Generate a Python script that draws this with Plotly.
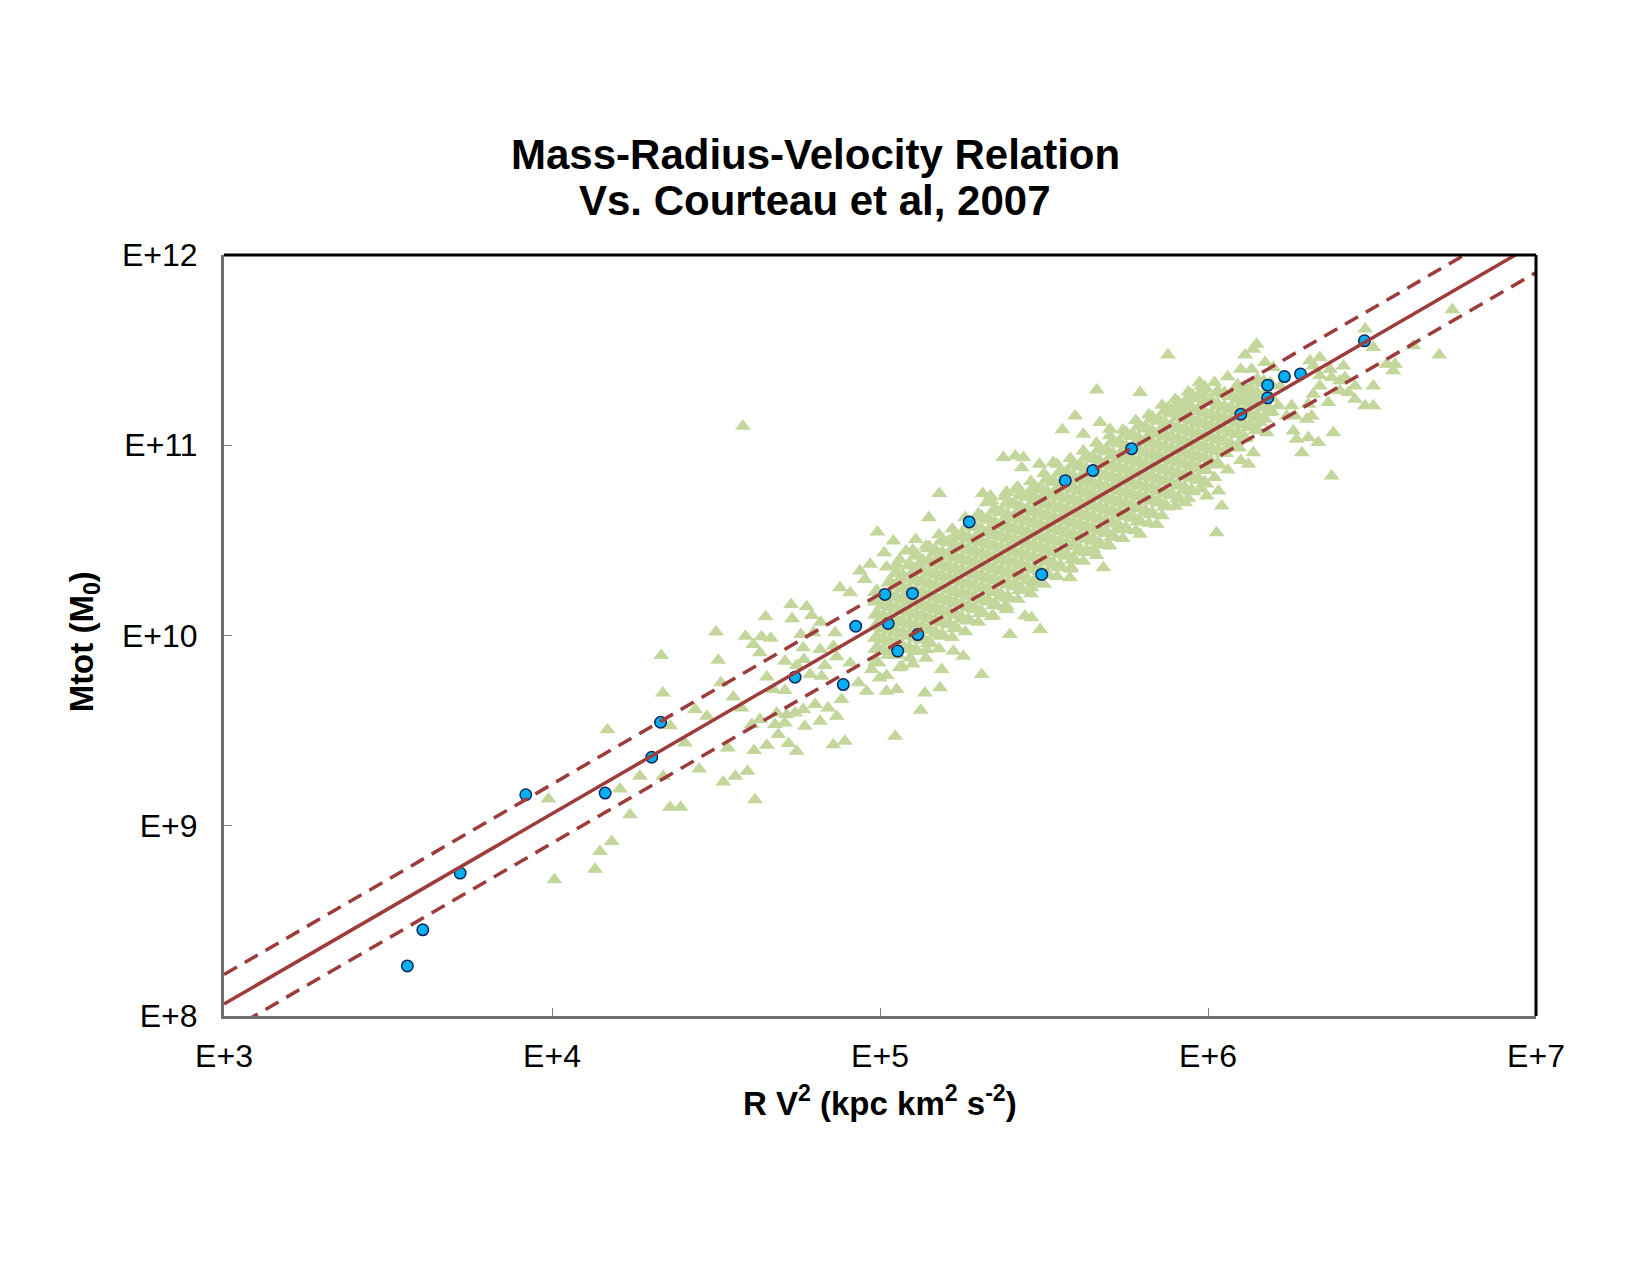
import plotly.graph_objects as go

# ---------------- data (log10 values) ----------------
# Blue circles: sample galaxies
blue_log_rv2 = [3.559, 3.606, 3.720, 3.920, 4.162, 4.304, 4.331, 4.741, 4.888, 4.926,
                5.015, 5.025, 5.054, 5.099, 5.115, 5.272, 5.493, 5.565, 5.649, 5.767,
                6.100, 6.182, 6.182, 6.233, 6.282, 6.477]
blue_log_mtot = [8.263, 8.453, 8.751, 9.163, 9.172, 9.360, 9.544, 9.781, 9.742, 10.049,
                 10.216, 10.063, 9.918, 10.221, 10.005, 10.597, 10.321, 10.814, 10.867, 10.982,
                 11.163, 11.249, 11.316, 11.361, 11.375, 11.549]

# Green triangles (Courteau et al. 2007) - scattered points
green_log_rv2 = [
    4.582, 5.878, 6.745, 6.705,
    # low / left tail
    4.729, 4.776, 4.792, 4.651, 4.732, 4.819, 4.500, 4.590, 4.639, 4.667, 4.614, 4.759, 4.797,
    4.863, 4.766, 4.817, 4.858, 4.634, 4.333, 4.507, 4.710, 4.746, 4.768, 4.832, 4.868, 4.655,
    4.787, 4.822, 4.515, 4.675, 4.710, 4.338, 4.553, 4.578, 4.436, 4.472, 4.634, 4.685, 4.715,
    4.741, 4.766, 4.802, 4.842, 4.868, 4.817, 4.609, 4.680, 4.710, 4.771, 4.360, 4.169, 4.690,
    4.721, 4.655, 4.746, 4.858, 4.536, 4.616, 4.405, 4.449, 4.268, 4.339, 4.522, 4.559, 4.596,
    4.207, 3.989, 4.619, 4.360, 4.392, 4.238, 4.182, 4.146, 4.131, 4.007,
    # middle
    5.181, 5.313, 5.337, 5.149, 4.992, 5.041, 5.109, 5.079, 5.013, 4.970, 4.939, 5.051, 4.954,
    4.909, 4.878, 4.909, 4.934, 4.975, 4.999, 4.959, 5.020, 5.051, 4.883, 5.137, 5.183, 5.124,
    5.046, 4.893, 5.188, 5.310, 5.254, 5.224, 5.142, 5.091, 5.066, 5.651, 5.528, 5.417, 5.386,
    5.346, 5.386, 5.415, 5.468, 5.325,
    # upper middle
    5.661, 5.793, 5.974, 5.595, 5.556, 5.671, 5.701, 5.620, 5.376, 5.412, 5.437, 5.432, 5.486,
    5.528, 5.386, 5.412, 6.032, 6.042, 5.996, 5.930, 6.026, 5.844, 5.793, 5.732, 5.696, 5.681,
    5.584, 5.579, 5.442, 5.462, 5.488, 5.396, 5.427, 5.462, 5.386, 5.986, 5.935, 5.915, 5.879,
    # upper right
    6.479, 6.504, 6.626, 6.148, 6.138, 6.113, 6.174, 6.133, 6.199, 6.311, 6.341, 6.321, 6.372,
    6.413, 6.418, 6.545, 6.570, 6.565, 6.341, 6.377, 6.402, 6.341, 6.448, 6.504, 6.402, 6.428,
    6.448, 6.321, 6.367, 6.479, 6.504, 6.255, 6.306, 6.316, 6.265, 6.301, 6.240, 6.189, 6.214,
    6.158, 6.123, 6.179, 6.260, 6.306, 6.336, 6.382, 6.286, 6.270, 6.138, 6.123, 6.377, 6.108,
    6.128, 6.220,
    # fringe of the dense band
    5.02, 5.02, 5.06, 5.06, 5.10, 5.10, 5.14, 5.14, 5.18, 5.18, 5.22, 5.22, 5.26, 5.26,
    5.30, 5.30, 5.34, 5.34, 5.38, 5.38, 5.42, 5.42, 5.46, 5.46, 5.50, 5.50, 5.54, 5.54,
    5.58, 5.58, 5.62, 5.62, 5.66, 5.66, 5.70, 5.70, 5.74, 5.74, 5.78, 5.78, 5.82, 5.82,
    5.86, 5.86, 5.90, 5.90, 5.94, 5.94, 5.98, 5.98, 6.02, 6.02, 6.06, 6.06, 6.10, 6.10,
]
green_log_mtot = [
    11.100, 11.474, 11.712, 11.474,
    10.163, 10.151, 10.105, 10.098, 10.088, 10.070, 10.018, 9.996, 9.993, 9.986, 9.953, 10.005, 10.014,
    10.014, 9.935, 9.926, 9.944, 9.909, 9.895, 9.870, 9.865, 9.842, 9.874, 9.842, 9.888, 9.782,
    9.795, 9.786, 9.751, 9.716, 9.711, 9.698, 9.677, 9.619, 9.611, 9.575, 9.558, 9.593, 9.584,
    9.593, 9.611, 9.637, 9.619, 9.575, 9.549, 9.532, 9.532, 9.540, 9.523, 9.526, 9.505, 9.479,
    9.432, 9.423, 9.391, 9.426, 9.409, 9.396, 9.435, 9.298, 9.260, 9.260, 9.230, 9.260, 9.286,
    9.193, 9.140, 9.137, 9.097, 9.097, 9.058, 8.917, 8.865, 8.772, 8.716,
    10.747, 10.747, 10.733, 10.619, 10.544, 10.497, 10.505, 10.444, 10.435, 10.374, 10.339, 10.374, 10.295,
    10.225, 10.251, 9.856, 9.751, 9.821, 9.777, 9.707, 9.707, 9.716, 9.663, 9.698, 9.725, 9.607,
    9.470, 9.444, 9.821, 9.795, 9.891, 9.917, 9.926, 9.882, 9.839, 10.453, 10.382, 10.260, 10.154,
    10.102, 10.754, 10.765, 10.742, 10.698,
    11.291, 11.277, 11.330, 11.154, 11.081, 11.119, 11.084, 11.058, 10.935, 10.944, 10.935, 10.882, 10.900,
    10.909, 10.751, 10.768, 10.760, 10.681, 10.733, 10.698, 10.540, 10.584, 10.532, 10.558, 10.479, 10.356,
    10.356, 10.303, 10.102, 10.093, 10.032, 10.005, 10.242, 10.251, 10.137, 11.277, 11.242, 11.189, 11.198,
    11.611, 11.514, 11.523, 11.531, 11.505, 11.474, 11.435, 11.400, 11.409, 11.444, 11.461, 11.417, 11.400,
    11.417, 11.356, 11.426, 11.426, 11.391, 11.365, 11.356, 11.339, 11.312, 11.312, 11.312, 11.286, 11.277,
    11.242, 11.268, 11.225, 11.207, 11.207, 11.207, 11.216, 11.154, 11.154, 11.137, 11.154, 11.172, 11.207,
    11.119, 11.093, 11.066, 11.075, 11.040, 11.014, 11.066, 10.961, 11.031, 10.961, 10.900, 10.839, 11.277,
    11.260, 11.312,
    10.36, 9.79, 10.40, 9.83, 10.45, 9.85, 10.47, 9.88, 10.53, 9.93, 10.56, 9.99, 10.62, 10.02,
    10.64, 10.07, 10.71, 10.10, 10.73, 10.15, 10.78, 10.19, 10.81, 10.22, 10.85, 10.27, 10.90, 10.31,
    10.93, 10.35, 10.97, 10.39, 11.01, 10.42, 11.05, 10.47, 11.08, 10.51, 11.13, 10.55, 11.16, 10.59,
    11.21, 10.63, 11.24, 10.68, 11.28, 10.72, 11.31, 10.77, 11.33, 10.83, 11.36, 10.87, 11.40, 10.92,
]

# Green triangles - dense core, read column by column (log RV^2 -> list of log Mtot)
green_core = [
    (4.99, [9.86, 9.93, 9.99, 10.05, 10.11, 10.18, 10.23]),
    (5.01, [9.92, 9.98, 10.04, 10.10, 10.16, 10.21]),
    (5.03, [9.90, 9.97, 10.03, 10.09, 10.15, 10.21, 10.28]),
    (5.05, [9.90, 9.96, 10.02, 10.08, 10.14, 10.20, 10.26, 10.33]),
    (5.07, [9.94, 10.01, 10.07, 10.13, 10.19, 10.25, 10.31]),
    (5.09, [9.93, 10.00, 10.06, 10.12, 10.18, 10.24, 10.30, 10.37]),
    (5.11, [9.92, 9.99, 10.05, 10.11, 10.17, 10.23, 10.29, 10.35, 10.42]),
    (5.13, [9.98, 10.04, 10.10, 10.16, 10.22, 10.28, 10.34, 10.39]),
    (5.15, [9.96, 10.03, 10.09, 10.15, 10.21, 10.27, 10.33, 10.39, 10.46]),
    (5.17, [10.01, 10.08, 10.14, 10.20, 10.26, 10.32, 10.38, 10.44]),
    (5.19, [10.00, 10.07, 10.13, 10.19, 10.25, 10.31, 10.37, 10.43, 10.50]),
    (5.21, [10.06, 10.12, 10.18, 10.24, 10.30, 10.36, 10.42, 10.49]),
    (5.23, [10.04, 10.11, 10.17, 10.23, 10.29, 10.35, 10.41, 10.47, 10.52]),
    (5.25, [10.09, 10.16, 10.22, 10.28, 10.34, 10.40, 10.46, 10.53]),
    (5.27, [10.08, 10.15, 10.21, 10.27, 10.33, 10.39, 10.45, 10.51, 10.58]),
    (5.29, [10.14, 10.20, 10.26, 10.32, 10.38, 10.44, 10.50, 10.57]),
    (5.31, [10.12, 10.19, 10.25, 10.31, 10.37, 10.43, 10.49, 10.55, 10.62]),
    (5.33, [10.18, 10.24, 10.30, 10.36, 10.42, 10.48, 10.54, 10.61]),
    (5.35, [10.16, 10.23, 10.29, 10.35, 10.41, 10.47, 10.53, 10.59, 10.66]),
    (5.37, [10.21, 10.28, 10.34, 10.40, 10.46, 10.52, 10.58, 10.65]),
    (5.39, [10.20, 10.27, 10.33, 10.39, 10.45, 10.51, 10.57, 10.63, 10.70]),
    (5.41, [10.26, 10.32, 10.38, 10.44, 10.50, 10.56, 10.62, 10.69]),
    (5.43, [10.24, 10.31, 10.37, 10.43, 10.49, 10.55, 10.61, 10.67, 10.74]),
    (5.45, [10.29, 10.36, 10.42, 10.48, 10.54, 10.60, 10.66, 10.73]),
    (5.47, [10.28, 10.35, 10.41, 10.47, 10.53, 10.59, 10.65, 10.71, 10.78]),
    (5.49, [10.34, 10.40, 10.46, 10.52, 10.58, 10.64, 10.70, 10.77]),
    (5.51, [10.32, 10.39, 10.45, 10.51, 10.57, 10.63, 10.69, 10.75, 10.82]),
    (5.53, [10.37, 10.44, 10.50, 10.56, 10.62, 10.68, 10.74, 10.81]),
    (5.55, [10.36, 10.43, 10.49, 10.55, 10.61, 10.67, 10.73, 10.79, 10.86]),
    (5.57, [10.42, 10.48, 10.54, 10.60, 10.66, 10.72, 10.78, 10.85]),
    (5.59, [10.40, 10.47, 10.53, 10.59, 10.65, 10.71, 10.77, 10.83, 10.90]),
    (5.61, [10.45, 10.52, 10.58, 10.64, 10.70, 10.76, 10.82, 10.89]),
    (5.63, [10.44, 10.51, 10.57, 10.63, 10.69, 10.75, 10.81, 10.87, 10.94]),
    (5.65, [10.50, 10.56, 10.62, 10.68, 10.74, 10.80, 10.86, 10.93]),
    (5.67, [10.48, 10.55, 10.61, 10.67, 10.73, 10.79, 10.85, 10.91, 10.98]),
    (5.69, [10.54, 10.60, 10.66, 10.72, 10.78, 10.84, 10.90, 10.97]),
    (5.71, [10.52, 10.59, 10.65, 10.71, 10.77, 10.83, 10.89, 10.95, 11.02]),
    (5.73, [10.57, 10.64, 10.70, 10.76, 10.82, 10.88, 10.94, 11.01]),
    (5.75, [10.56, 10.63, 10.69, 10.75, 10.81, 10.87, 10.93, 10.99, 11.06]),
    (5.77, [10.62, 10.68, 10.74, 10.80, 10.86, 10.92, 10.98, 11.05]),
    (5.79, [10.60, 10.67, 10.73, 10.79, 10.85, 10.91, 10.97, 11.03, 11.10]),
    (5.81, [10.65, 10.72, 10.78, 10.84, 10.90, 10.96, 11.02, 11.09]),
    (5.83, [10.64, 10.71, 10.77, 10.83, 10.89, 10.95, 11.01, 11.07, 11.14]),
    (5.85, [10.70, 10.76, 10.82, 10.88, 10.94, 11.00, 11.06, 11.13]),
    (5.87, [10.68, 10.75, 10.81, 10.87, 10.93, 10.99, 11.05, 11.11, 11.18]),
    (5.89, [10.74, 10.80, 10.86, 10.92, 10.98, 11.04, 11.10, 11.17]),
    (5.91, [10.72, 10.79, 10.85, 10.91, 10.97, 11.03, 11.09, 11.15, 11.22]),
    (5.93, [10.77, 10.84, 10.90, 10.96, 11.02, 11.08, 11.14, 11.21]),
    (5.95, [10.76, 10.83, 10.89, 10.95, 11.01, 11.07, 11.13, 11.19, 11.26]),
    (5.97, [10.82, 10.88, 10.94, 11.00, 11.06, 11.12, 11.18, 11.25]),
    (5.99, [10.80, 10.87, 10.93, 10.99, 11.05, 11.11, 11.17, 11.23, 11.30]),
    (6.01, [10.91, 10.98, 11.04, 11.10, 11.16, 11.23]),
    (6.03, [10.90, 10.97, 11.03, 11.09, 11.15, 11.21, 11.28]),
    (6.05, [10.96, 11.02, 11.08, 11.14, 11.20, 11.27]),
    (6.07, [11.00, 11.07, 11.13, 11.19, 11.26]),
    (6.09, [10.99, 11.06, 11.12, 11.18, 11.24, 11.31]),
    (6.11, [11.04, 11.11, 11.17, 11.23, 11.30]),
    (6.13, [11.10, 11.16, 11.22, 11.29]),
    (6.15, [11.08, 11.15, 11.21, 11.27, 11.34]),
    (6.17, [11.14, 11.20, 11.26, 11.33]),
    (6.19, [11.18, 11.25, 11.32]),
]

# Fit line: M = coeff * R V^2, dashed lines +/- scatter (dex)
fit_log_coeff = 5.063
fit_scatter_dex = 0.155
x_range_log = [3, 7]
y_range_log = [8, 12]

x_tick_vals = [1e3, 1e4, 1e5, 1e6, 1e7]
x_tick_text = ["E+3", "E+4", "E+5", "E+6", "E+7"]
y_tick_vals = [1e8, 1e9, 1e10, 1e11, 1e12]
y_tick_text = ["E+8", "E+9", "E+10", "E+11", "E+12"]

title_lines = ["Mass-Radius-Velocity Relation", "Vs. Courteau et al, 2007"]

# ---------------- build ----------------
gx = [10 ** v for v in green_log_rv2]
gy = [10 ** v for v in green_log_mtot]
cx, cy = [], []
for lx, lys in green_core:
    for ly in lys:
        cx.append(10 ** lx)
        cy.append(10 ** ly)

bx = [10 ** v for v in blue_log_rv2]
by = [10 ** v for v in blue_log_mtot]

line_x = [10 ** x_range_log[0], 10 ** x_range_log[1]]
def fit(offset):
    return [10 ** (x_range_log[0] + fit_log_coeff + offset), 10 ** (x_range_log[1] + fit_log_coeff + offset)]

FONT = "Liberation Sans, Arial, sans-serif"
LINE_COLOR = "#9E3B3B"
GREEN = "#C3D69B"

fig = go.Figure()
fig.add_trace(go.Scatter(x=cx, y=cy, mode="markers",
                         marker=dict(symbol="triangle-up", size=17, color=GREEN, line=dict(width=0)),
                         showlegend=False, hoverinfo="skip"))
fig.add_trace(go.Scatter(x=gx, y=gy, mode="markers",
                         marker=dict(symbol="triangle-up", size=14, color=GREEN, line=dict(width=0)),
                         showlegend=False, hoverinfo="skip"))
fig.add_trace(go.Scatter(x=bx, y=by, mode="markers",
                         marker=dict(symbol="circle", size=11.5, color="#00B0F0",
                                     line=dict(width=1.5, color="#0F2557")),
                         showlegend=False))
fig.add_trace(go.Scatter(x=line_x, y=fit(0), mode="lines",
                         line=dict(color=LINE_COLOR, width=3.5), showlegend=False))
fig.add_trace(go.Scatter(x=line_x, y=fit(fit_scatter_dex), mode="lines",
                         line=dict(color=LINE_COLOR, width=3.5, dash="15px,9px"), showlegend=False))
fig.add_trace(go.Scatter(x=line_x, y=fit(-fit_scatter_dex), mode="lines",
                         line=dict(color=LINE_COLOR, width=3.5, dash="15px,9px"), showlegend=False))

fig.update_layout(
    width=1650, height=1275,
    margin=dict(l=224, r=114, t=255, b=259),
    paper_bgcolor="white", plot_bgcolor="white",
    font=dict(family=FONT, color="black"),
    showlegend=False,
)
fig.update_xaxes(type="log", range=x_range_log, tickvals=x_tick_vals, ticktext=x_tick_text,
                 ticks="inside", ticklen=8, tickwidth=1, tickcolor="#808080",
                 showline=True, linecolor="#6E6E6E", linewidth=3, mirror=False,
                 showgrid=False, zeroline=False, ticklabelstandoff=10,
                 tickfont=dict(size=32, family=FONT, color="black"))
fig.update_yaxes(type="log", range=y_range_log, tickvals=y_tick_vals, ticktext=y_tick_text,
                 ticks="inside", ticklen=8, tickwidth=1, tickcolor="#808080",
                 showline=True, linecolor="#6E6E6E", linewidth=3, mirror=False,
                 showgrid=False, zeroline=False, ticklabelstandoff=17,
                 tickfont=dict(size=32, family=FONT, color="black"))

# plot frame (top / right in black)
fig.add_shape(type="line", xref="paper", yref="paper", x0=0, x1=1, y0=1, y1=1,
              line=dict(color="black", width=3), layer="above")
fig.add_shape(type="line", xref="paper", yref="paper", x0=1, x1=1, y0=0, y1=1,
              line=dict(color="black", width=3), layer="above")

# title (two lines)
for text, ypix in zip(title_lines, [154, 200]):
    fig.add_annotation(text="<b>" + text + "</b>", xref="paper", yref="paper",
                       x=(815 - 224) / 1312, y=(1016 - ypix) / 761,
                       xanchor="center", yanchor="middle", showarrow=False,
                       font=dict(size=42, family=FONT, color="black"))

fig.add_annotation(text="<b>R V<sup>2</sup> (kpc km<sup>2</sup> s<sup>-2</sup>)</b>",
                   xref="paper", yref="paper", x=0.5, y=-0.1117, xanchor="center", yanchor="middle",
                   showarrow=False, font=dict(size=33, family=FONT, color="black"))
fig.add_annotation(text="<b>Mtot (M<sub>0</sub>)</b>",
                   xref="paper", yref="paper", x=-0.1067, y=0.491, xanchor="center", yanchor="middle",
                   textangle=-90, showarrow=False, font=dict(size=33, family=FONT, color="black"))

fig.write_html("out.html")
